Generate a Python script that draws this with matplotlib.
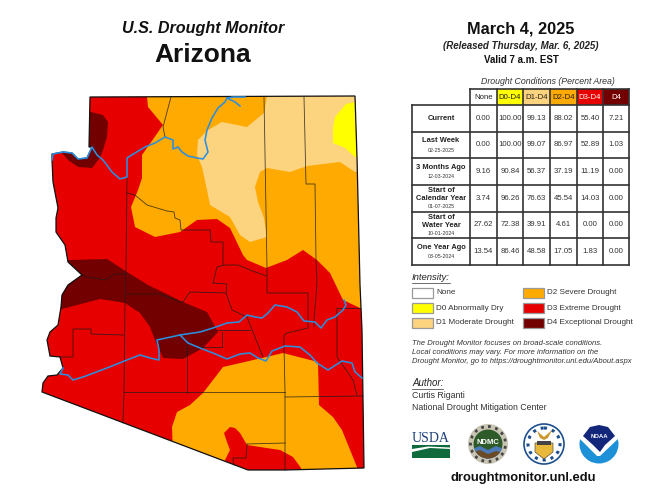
import matplotlib
matplotlib.use("Agg")
import matplotlib.pyplot as plt
from matplotlib.patches import Polygon, Rectangle, Circle, Wedge

plt.rcParams["font.family"] = ["Liberation Sans", "DejaVu Sans"]

# drought colours
C_D0 = "#ffff00"
C_D1 = "#fcd37f"
C_D2 = "#ffaa00"
C_D3 = "#e60000"
C_D4 = "#730000"
RIVER = "#2b8fe0"

# map shapes, in image pixels
state_outline = [(90, 97), (355, 96), (357, 157), (360, 285), (362, 330), (364, 468), (285, 470), (248, 470),
                 (42, 392), (43, 383), (48, 376), (57, 375), (63, 368), (60, 357), (50, 356), (47, 340), (50, 332),
                 (58, 325), (61, 307), (62, 295), (68, 285), (82, 275), (68, 262), (65, 245), (56, 232), (56, 218),
                 (58, 208), (53, 182), (52, 160), (52, 154), (63, 152), (72, 153), (78, 159), (87, 158), (92, 147),
                 (89, 147)]
d2_north = [(147, 90), (147, 97), (148, 107), (163, 125), (142, 155), (142, 178), (138, 190), (131, 207), (135, 227),
            (155, 237), (180, 232), (197, 220), (217, 219), (230, 228), (243, 255), (247, 260), (266, 268), (287, 260),
            (303, 250), (317, 260), (330, 273), (343, 300), (360, 308), (370, 308), (370, 90)]
d2_south = [(223, 367), (262, 358), (283, 353), (318, 362), (319, 405), (333, 417), (342, 430), (357, 467), (357, 480),
            (301, 480), (301, 468), (293, 457), (280, 450), (260, 447), (247, 445), (240, 433), (235, 428), (230, 427),
            (224, 433), (227, 442), (230, 450), (225, 460), (225, 475), (173, 455), (172, 427), (177, 412), (190, 405),
            (203, 393)]
d1_area = [(267, 90), (267, 97), (264, 113), (247, 127), (222, 122), (208, 130), (198, 140), (197, 155), (202, 167),
           (207, 190), (210, 205), (230, 217), (240, 235), (250, 242), (267, 237), (264, 218), (258, 202), (255, 187),
           (260, 172), (267, 168), (290, 172), (307, 166), (340, 162), (355, 172), (370, 172), (370, 90)]
d0_area = [(346, 104), (335, 117), (333, 128), (333, 143), (345, 148), (355, 157), (365, 157), (365, 100)]
d4_north = [(80, 111), (91, 112), (103, 115), (108, 122), (107, 137), (103, 150), (100, 158), (92, 168), (78, 167),
            (68, 160), (62, 153), (60, 140)]
d4_central = [(70, 260), (107, 259), (127, 272), (148, 285), (183, 302), (207, 312), (218, 332), (203, 348), (183, 359),
              (163, 358), (155, 340), (150, 327), (140, 313), (125, 303), (100, 299), (62, 309), (50, 309), (50, 260)]

county_lines = [
    [(171, 97), (167, 112), (163, 127), (165, 137)],
    [(127, 178), (126, 270), (125, 303), (124, 392), (123, 423)],
    [(127, 193), (135, 195), (147, 205), (167, 211), (174, 212), (175, 218), (180, 220), (181, 230), (210, 230),
     (211, 242), (223, 242), (223, 265)],
    [(213, 283), (217, 267), (225, 265), (238, 265), (250, 270), (266, 276)],
    [(213, 283), (227, 284), (226, 293)],
    [(264, 97), (267, 268), (267, 293), (308, 293), (308, 328), (287, 333), (284, 335), (284, 345), (285, 392), (285, 470)],
    [(304, 97), (306, 184), (315, 184), (316, 260), (317, 283), (314, 320), (314, 327)],
    [(337, 308), (337, 357), (353, 380), (357, 395)],
    [(337, 308), (360, 308)],
    [(124, 392), (285, 392)],
    [(285, 397), (363, 396)],
    [(247, 444), (285, 443)],
    [(247, 444), (246, 458), (233, 458), (234, 465)],
    [(60, 357), (73, 357), (73, 329), (91, 329), (91, 334), (124, 335)],
    [(126, 294), (160, 294), (180, 302), (183, 302), (190, 292), (226, 293), (232, 310), (247, 317), (263, 357)],
    [(222, 332), (222, 347), (200, 347)],
    [(217, 330), (250, 330)],
    [(187, 345), (187, 393)],
    [(83, 276), (105, 280), (115, 274), (126, 274)],
]

colorado = [(227, 98), (225, 102), (218, 108), (212, 118), (207, 130), (205, 140), (208, 152), (203, 159), (197, 158),
            (188, 156), (182, 152), (178, 147), (173, 149), (173, 140), (165, 137), (155, 143), (145, 147), (135, 153),
            (127, 158), (127, 177), (120, 179), (112, 172), (103, 160), (97, 155), (92, 147), (87, 158), (78, 159),
            (72, 153), (63, 152), (53, 154), (52, 160)]
colorado_arm = [(240, 106), (235, 102), (227, 98), (233, 97), (245, 97)]
salt_river = [(344, 300), (346, 305), (343, 310), (335, 317), (327, 320), (321, 328), (315, 322), (304, 321), (297, 312),
              (287, 307), (275, 305), (268, 313), (262, 318), (255, 317), (247, 315), (239, 322), (227, 323), (213, 328),
              (200, 332), (180, 335), (157, 340), (159, 350), (159, 360), (150, 358), (140, 355), (127, 360), (107, 368),
              (83, 377), (73, 380), (68, 375), (60, 374), (63, 368)]
gila_river = [(180, 335), (188, 343), (200, 348), (213, 353), (227, 359), (240, 354), (250, 353), (258, 358), (266, 361),
              (272, 351), (285, 346), (300, 347), (310, 355), (317, 363), (328, 370), (342, 361), (352, 363), (355, 372),
              (362, 378)]

# statistics table
col_labels = ["None", "D0-D4", "D1-D4", "D2-D4", "D3-D4", "D4"]
col_colors = ["white", C_D0, C_D1, C_D2, C_D3, C_D4]
col_text = ["#222222", "#222222", "#222222", "#222222", "white", "white"]
row_labels = ["Current", "Last Week", "3 Months Ago", "Start of\nCalendar Year", "Start of\nWater Year", "One Year Ago"]
row_dates = ["", "02-25-2025", "12-03-2024", "01-07-2025", "10-01-2024", "03-05-2024"]
table_values = [
    ["0.00", "100.00", "99.13", "88.02", "55.40", "7.21"],
    ["0.00", "100.00", "99.07", "86.97", "52.89", "1.03"],
    ["9.16", "90.84", "56.37", "37.19", "11.19", "0.00"],
    ["3.74", "96.26", "76.63", "45.54", "14.03", "0.00"],
    ["27.62", "72.38", "39.91", "4.61", "0.00", "0.00"],
    ["13.54", "86.46", "48.58", "17.05", "1.83", "0.00"],
]
col_edges = [470, 496.7, 523.3, 550, 576.7, 603.3, 629.3]
row_edges = [105.3, 131.7, 158.3, 185, 211.7, 238.3, 265]

legend_left = ["None", "D0 Abnormally Dry", "D1 Moderate Drought"]
legend_left_colors = ["white", C_D0, C_D1]
legend_right = ["D2 Severe Drought", "D3 Extreme Drought", "D4 Exceptional Drought"]
legend_right_colors = [C_D2, C_D3, C_D4]
note_lines = ["The Drought Monitor focuses on broad-scale conditions.",
              "Local conditions may vary. For more information on the",
              "Drought Monitor, go to https://droughtmonitor.unl.edu/About.aspx"]

fig = plt.figure(figsize=(6.47, 5.0), dpi=100)
ax = fig.add_axes([0, 0, 1, 1])
ax.set_xlim(0, 647)
ax.set_ylim(500, 0)
ax.axis("off")

# map
state = Polygon(state_outline, closed=True, facecolor=C_D3, edgecolor="none", zorder=1)
ax.add_patch(state)
for shape, color in [(d2_north, C_D2), (d2_south, C_D2), (d1_area, C_D1), (d0_area, C_D0),
                     (d4_north, C_D4), (d4_central, C_D4)]:
    p = Polygon(shape, closed=True, facecolor=color, edgecolor="none", zorder=2)
    ax.add_patch(p)
    p.set_clip_path(state)
for line in county_lines:
    xs, ys = zip(*line)
    ax.plot(xs, ys, color="#1c1c1c", lw=0.6, alpha=0.8, zorder=3, solid_joinstyle="miter")
ax.add_patch(Polygon(state_outline, closed=True, fill=False, edgecolor="#111111", lw=0.9, zorder=4))
for river in [colorado, colorado_arm, salt_river, gila_river]:
    xs, ys = zip(*river)
    ax.plot(xs, ys, color=RIVER, lw=1.15, zorder=5)

# titles
ax.text(203, 28, "U.S. Drought Monitor", ha="center", va="center", fontsize=11.6, fontweight="bold", style="italic",
        color="#111111")
ax.text(203, 55, "Arizona", ha="center", va="center", fontsize=19, fontweight="bold", color="#111111")
ax.text(521, 29, "March 4, 2025", ha="center", va="center", fontsize=11.8, fontweight="bold", color="#111111")
ax.text(521, 46, "(Released Thursday, Mar. 6, 2025)", ha="center", va="center", fontsize=7, fontweight="bold",
        style="italic", color="#222222")
ax.text(521, 60, "Valid 7 a.m. EST", ha="center", va="center", fontsize=7, fontweight="bold", color="#111111")
ax.text(548, 81, "Drought Conditions (Percent Area)", ha="center", va="center", fontsize=6.3, style="italic",
        color="#333333")

# table
header_top = 89.3
for i, label in enumerate(col_labels):
    x0, x1 = col_edges[i], col_edges[i + 1]
    ax.add_patch(Rectangle((x0, header_top), x1 - x0, row_edges[0] - header_top, facecolor=col_colors[i],
                           edgecolor="none", zorder=1))
    ax.text((x0 + x1) / 2, 97.5, label, ha="center", va="center", fontsize=5.6, color=col_text[i], zorder=3)
line_kw = dict(color="#333333", lw=1.2, zorder=2, solid_capstyle="projecting")
for x in col_edges:
    ax.plot([x, x], [header_top, row_edges[-1]], **line_kw)
ax.plot([411.7, 411.7], [row_edges[0], row_edges[-1]], **line_kw)
ax.plot([col_edges[0], col_edges[-1]], [header_top, header_top], **line_kw)
for y in row_edges:
    ax.plot([411.7, col_edges[-1]], [y, y], **line_kw)
for r, label in enumerate(row_labels):
    y0, y1 = row_edges[r], row_edges[r + 1]
    ymid = (y0 + y1) / 2
    date = row_dates[r]
    if not date:
        ax.text(441, ymid, label, ha="center", va="center", fontsize=5.4, fontweight="bold", color="#222222")
    elif "\n" in label:
        ax.text(441, ymid - 3.5, label, ha="center", va="center", fontsize=5.4, fontweight="bold", color="#222222",
                linespacing=1.2)
        ax.text(441, ymid + 8.5, date, ha="center", va="center", fontsize=3.8, color="#333333")
    else:
        ax.text(441, ymid - 4, label, ha="center", va="center", fontsize=5.4, fontweight="bold", color="#222222")
        ax.text(441, ymid + 5, date, ha="center", va="center", fontsize=3.8, color="#333333")
    for c, val in enumerate(table_values[r]):
        ax.text((col_edges[c] + col_edges[c + 1]) / 2, ymid, val, ha="center", va="center", fontsize=5.6,
                color="#333333")

# legend
ax.text(412, 278, "Intensity:", ha="left", va="center", fontsize=6.8, style="italic", color="#222222")
ax.plot([412, 450], [283, 283], color="#333333", lw=0.5)
legend_y = [293, 308, 323]
for y, label, color in zip(legend_y, legend_left, legend_left_colors):
    ax.add_patch(Rectangle((412, y - 5), 21, 10, facecolor=color, edgecolor="#999999", lw=0.9))
    ax.text(436, y, label, ha="left", va="center", fontsize=5.85, color="#333333")
for y, label, color in zip(legend_y, legend_right, legend_right_colors):
    ax.add_patch(Rectangle((523, y - 5), 21, 10, facecolor=color, edgecolor="#999999", lw=0.9))
    ax.text(547, y, label, ha="left", va="center", fontsize=5.85, color="#333333")

for y, line in zip([343.5, 352.5, 361.5], note_lines):
    ax.text(412, y, line, ha="left", va="center", fontsize=5.5, style="italic", color="#333333")

ax.text(412, 383, "Author:", ha="left", va="center", fontsize=7, style="italic", color="#222222")
ax.plot([412, 443], [388.5, 388.5], color="#333333", lw=0.5)
ax.text(412, 395, "Curtis Riganti", ha="left", va="center", fontsize=6.3, color="#333333")
ax.text(412, 407, "National Drought Mitigation Center", ha="left", va="center", fontsize=6.3, color="#333333")

# logos, drawn roughly (y axis is flipped, so wedge angles 0-180 are the lower half)
ax.text(431, 438, "USDA", ha="center", va="center", fontsize=10, family="Liberation Serif", color="#1c3f7c")
ax.add_patch(Rectangle((412, 445), 38, 13, facecolor="#0f6b3c", edgecolor="none"))
ax.add_patch(Polygon([(412, 452), (430, 448), (450, 449), (450, 447.5), (428, 446.5), (412, 449)], facecolor="white",
                     edgecolor="none"))

ax.add_patch(Circle((488, 444), 20, facecolor="#c9c5b4", edgecolor="none"))
ax.add_patch(Circle((488, 444), 17.5, fill=False, edgecolor="#444444", lw=2, linestyle=":"))
ndmc_inner = Circle((488, 444), 14.5, facecolor="#2f5a2a", edgecolor="none")
ax.add_patch(ndmc_inner)
ndmc_water = Polygon([(472, 449), (480, 446), (488, 450), (496, 446), (504, 449), (504, 462), (472, 462)],
                     facecolor="#4a7ab8", edgecolor="none")
ax.add_patch(ndmc_water)
ndmc_water.set_clip_path(ndmc_inner)
ndmc_land = Polygon([(472, 453), (480, 450), (488, 454), (496, 451), (504, 453), (504, 462), (472, 462)],
                    facecolor="#6b4a26", edgecolor="none")
ax.add_patch(ndmc_land)
ndmc_land.set_clip_path(ndmc_inner)
ax.text(488, 442.5, "NDMC", ha="center", va="center", fontsize=5.5, fontweight="bold", color="white")

ax.add_patch(Circle((544, 444), 20, facecolor="white", edgecolor="#1c4f8c", lw=1.2))
ax.add_patch(Circle((544, 444), 16, fill=False, edgecolor="#1c4f8c", lw=2.2, linestyle=":"))
ax.add_patch(Polygon([(535, 443), (553, 443), (553, 452), (544, 459), (535, 452)], facecolor="#e8b83a",
                     edgecolor="#333333", lw=0.4))
ax.add_patch(Rectangle((537, 441), 14, 4, facecolor="#444444", edgecolor="none"))
ax.add_patch(Polygon([(537, 431), (544, 437), (552, 430), (548, 438), (544, 440), (540, 438)], facecolor="#c99a2e",
                     edgecolor="none"))

ax.add_patch(Wedge((599, 444), 19.5, -25, 205, facecolor="#1e90d8", edgecolor="none"))
ax.add_patch(Polygon([(578, 424), (620, 424), (620, 437), (600, 456), (597, 456), (578, 437)], facecolor="white",
                     edgecolor="none"))
ax.add_patch(Polygon([(599, 425), (608, 427), (615, 436), (605, 445), (600, 452), (593, 445), (583, 436), (590, 427)],
                     facecolor="#12267a", edgecolor="none"))
ax.text(599, 436, "NOAA", ha="center", va="center", fontsize=4.3, fontweight="bold", color="white")

ax.text(523, 478, "droughtmonitor.unl.edu", ha="center", va="center", fontsize=9.4, fontweight="bold", color="#111111")

fig.savefig("out.png", dpi=100)
